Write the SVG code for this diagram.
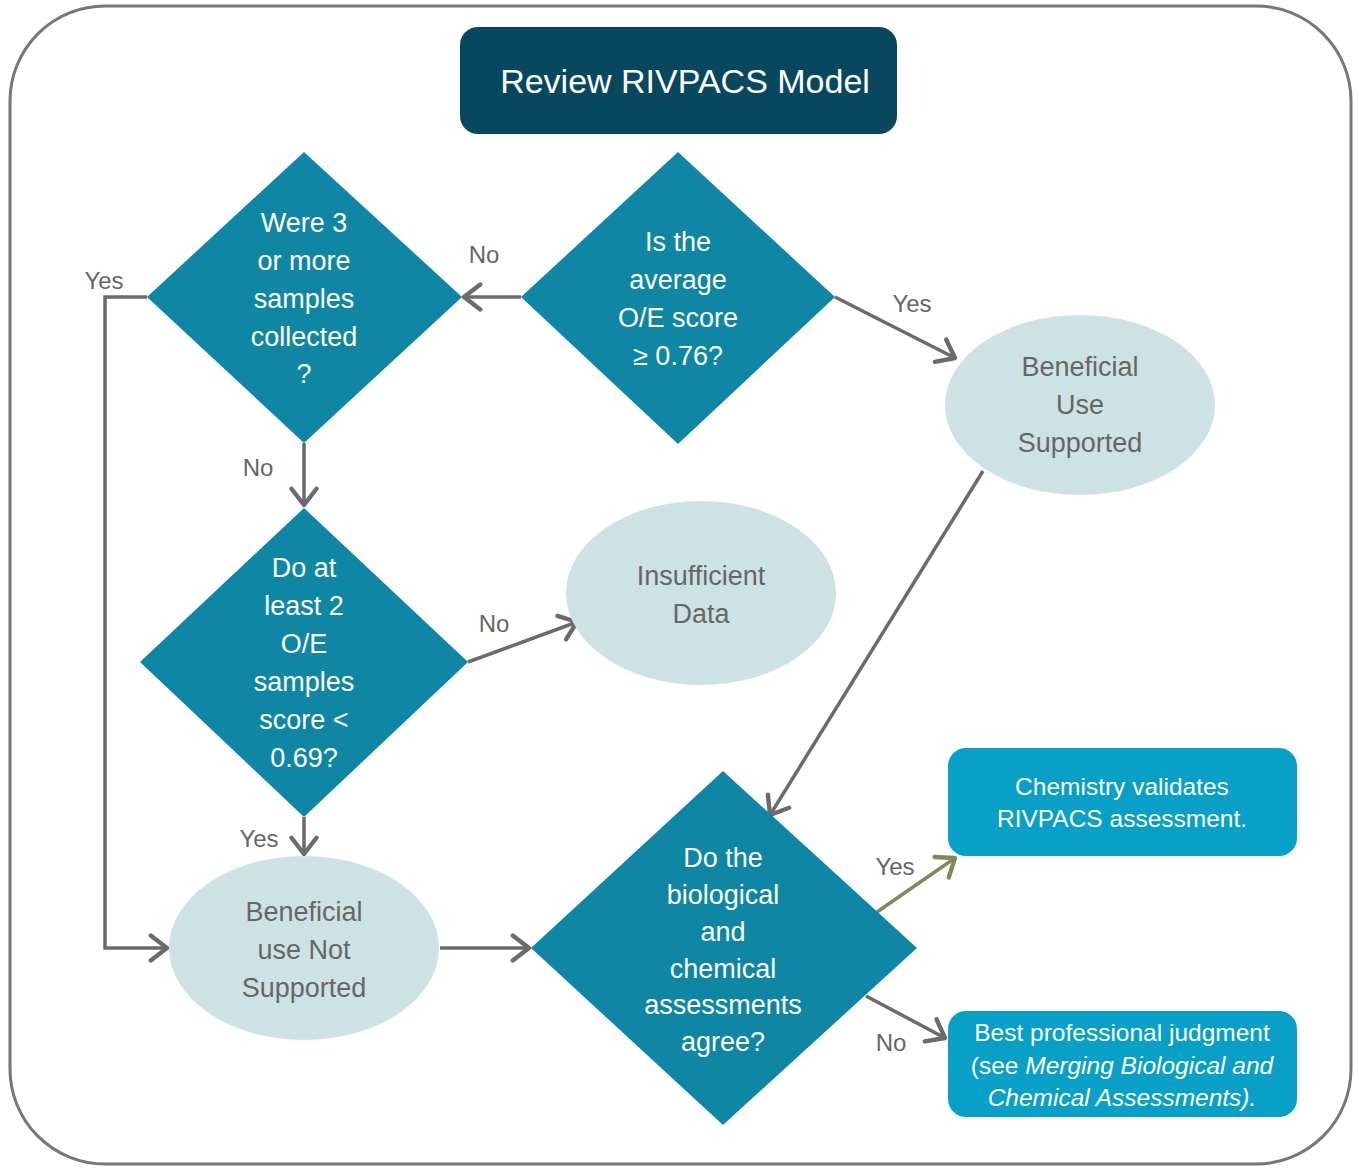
<svg xmlns="http://www.w3.org/2000/svg" width="1359" height="1169" viewBox="0 0 1359 1169">
<defs>
<marker id="arr" markerUnits="userSpaceOnUse" markerWidth="30" markerHeight="30" viewBox="-16 -12 20 24" refX="0" refY="0" orient="auto">
<path d="M-13,-10 L0,0 L-13,10" fill="none" stroke="#6b6b6b" stroke-width="3.5" stroke-linecap="round" stroke-linejoin="round"/>
</marker>
<marker id="arrg" markerUnits="userSpaceOnUse" markerWidth="30" markerHeight="30" viewBox="-16 -12 20 24" refX="0" refY="0" orient="auto">
<path d="M-13,-10 L0,0 L-13,10" fill="none" stroke="#7f8a58" stroke-width="3.5" stroke-linecap="round" stroke-linejoin="round"/>
</marker>
</defs>
<style>
.frame{fill:#fff;stroke:#777;stroke-width:3}
.dia{fill:#0e86a4}
.ell{fill:#cde3e3}
.box{fill:#08a0c6}
.dt{font-family:"Liberation Sans",Arial,sans-serif;font-size:27px;fill:#fff;text-anchor:middle;dominant-baseline:central}
.et{font-family:"Liberation Sans",Arial,sans-serif;font-size:27px;fill:#666;text-anchor:middle;dominant-baseline:central}
.bt{font-family:"Liberation Sans",Arial,sans-serif;font-size:24.5px;fill:#fff;text-anchor:middle;dominant-baseline:central}
.lab{font-family:"Liberation Sans",Arial,sans-serif;font-size:24px;fill:#666;text-anchor:middle;dominant-baseline:central}
.c{fill:none;stroke:#6b6b6b;stroke-width:3.5}
</style>
<rect class="frame" x="10" y="6" width="1341" height="1158" rx="95" ry="95"/>

<g id="title">
<rect x="460" y="27" width="437" height="107" rx="18" fill="#07485f"/>
<text x="685" y="81" font-family="'Liberation Sans',Arial,sans-serif" font-size="34" fill="#fff" text-anchor="middle" dominant-baseline="central">Review RIVPACS Model</text>
</g>

<g id="connectors">
<line class="c" x1="521" y1="297" x2="464" y2="297" marker-end="url(#arr)"/>
<line class="c" x1="835" y1="297" x2="955" y2="358" marker-end="url(#arr)"/>
<polyline class="c" points="147,297 105,297 105,948 167,948" marker-end="url(#arr)"/>
<line class="c" x1="304" y1="443" x2="304" y2="505" marker-end="url(#arr)"/>
<line class="c" x1="468" y1="662" x2="577" y2="622" marker-end="url(#arr)"/>
<line class="c" x1="304" y1="817" x2="304" y2="854" marker-end="url(#arr)"/>
<line class="c" x1="983" y1="471" x2="770" y2="815" marker-end="url(#arr)"/>
<line class="c" x1="440" y1="948" x2="529" y2="948" marker-end="url(#arr)"/>
<line x1="877" y1="912" x2="955" y2="858" stroke="#7f8a58" stroke-width="3.5" marker-end="url(#arrg)"/>
<line class="c" x1="866" y1="996" x2="945" y2="1038" marker-end="url(#arr)"/>
<text class="lab" x="484" y="254">No</text>
<text class="lab" x="912" y="303">Yes</text>
<text class="lab" x="104" y="280">Yes</text>
<text class="lab" x="258" y="467">No</text>
<text class="lab" x="494" y="623">No</text>
<text class="lab" x="259" y="838">Yes</text>
<text class="lab" x="895" y="866">Yes</text>
<text class="lab" x="891" y="1042">No</text>
</g>

<g id="d1">
<polygon class="dia" points="304,152 462,297 304,443 147,297"/>
<text class="dt" x="304" y="223">Were 3</text>
<text class="dt" x="304" y="261">or more</text>
<text class="dt" x="304" y="299">samples</text>
<text class="dt" x="304" y="337">collected</text>
<text class="dt" x="304" y="374">?</text>
</g>

<g id="d2">
<polygon class="dia" points="678,152 835,297 678,444 521,297"/>
<text class="dt" x="678" y="242">Is the</text>
<text class="dt" x="678" y="280">average</text>
<text class="dt" x="678" y="318">O/E score</text>
<text class="dt" x="678" y="356">≥ 0.76?</text>
</g>

<g id="d3">
<polygon class="dia" points="304,508 468,662 304,817 140,662"/>
<text class="dt" x="304" y="568">Do at</text>
<text class="dt" x="304" y="606">least 2</text>
<text class="dt" x="304" y="644">O/E</text>
<text class="dt" x="304" y="682">samples</text>
<text class="dt" x="304" y="720">score &lt;</text>
<text class="dt" x="304" y="758">0.69?</text>
</g>

<g id="d4">
<polygon class="dia" points="723,771 917,948 723,1125 531,948"/>
<text class="dt" x="723" y="858">Do the</text>
<text class="dt" x="723" y="895">biological</text>
<text class="dt" x="723" y="932">and</text>
<text class="dt" x="723" y="969">chemical</text>
<text class="dt" x="723" y="1005">assessments</text>
<text class="dt" x="723" y="1042">agree?</text>
</g>

<g id="e1">
<ellipse class="ell" cx="1080" cy="405" rx="135" ry="90"/>
<text class="et" x="1080" y="367">Beneficial</text>
<text class="et" x="1080" y="405">Use</text>
<text class="et" x="1080" y="443">Supported</text>
</g>

<g id="e2">
<ellipse class="ell" cx="701" cy="593" rx="135" ry="92"/>
<text class="et" x="701" y="576">Insufficient</text>
<text class="et" x="701" y="614">Data</text>
</g>

<g id="e3">
<ellipse class="ell" cx="304" cy="948" rx="135" ry="92"/>
<text class="et" x="304" y="912">Beneficial</text>
<text class="et" x="304" y="950">use Not</text>
<text class="et" x="304" y="988">Supported</text>
</g>

<g id="b1">
<rect class="box" x="948" y="748" width="349" height="108" rx="18"/>
<text class="bt" x="1122" y="786">Chemistry validates</text>
<text class="bt" x="1122" y="818">RIVPACS assessment.</text>
</g>

<g id="b2">
<rect class="box" x="948" y="1011" width="349" height="106" rx="18"/>
<text class="bt" x="1122" y="1032">Best professional judgment</text>
<text class="bt" x="1122" y="1065">(see <tspan font-style="italic">Merging Biological and</tspan></text>
<text class="bt" x="1122" y="1097" font-style="italic">Chemical Assessments).</text>
</g>
</svg>
